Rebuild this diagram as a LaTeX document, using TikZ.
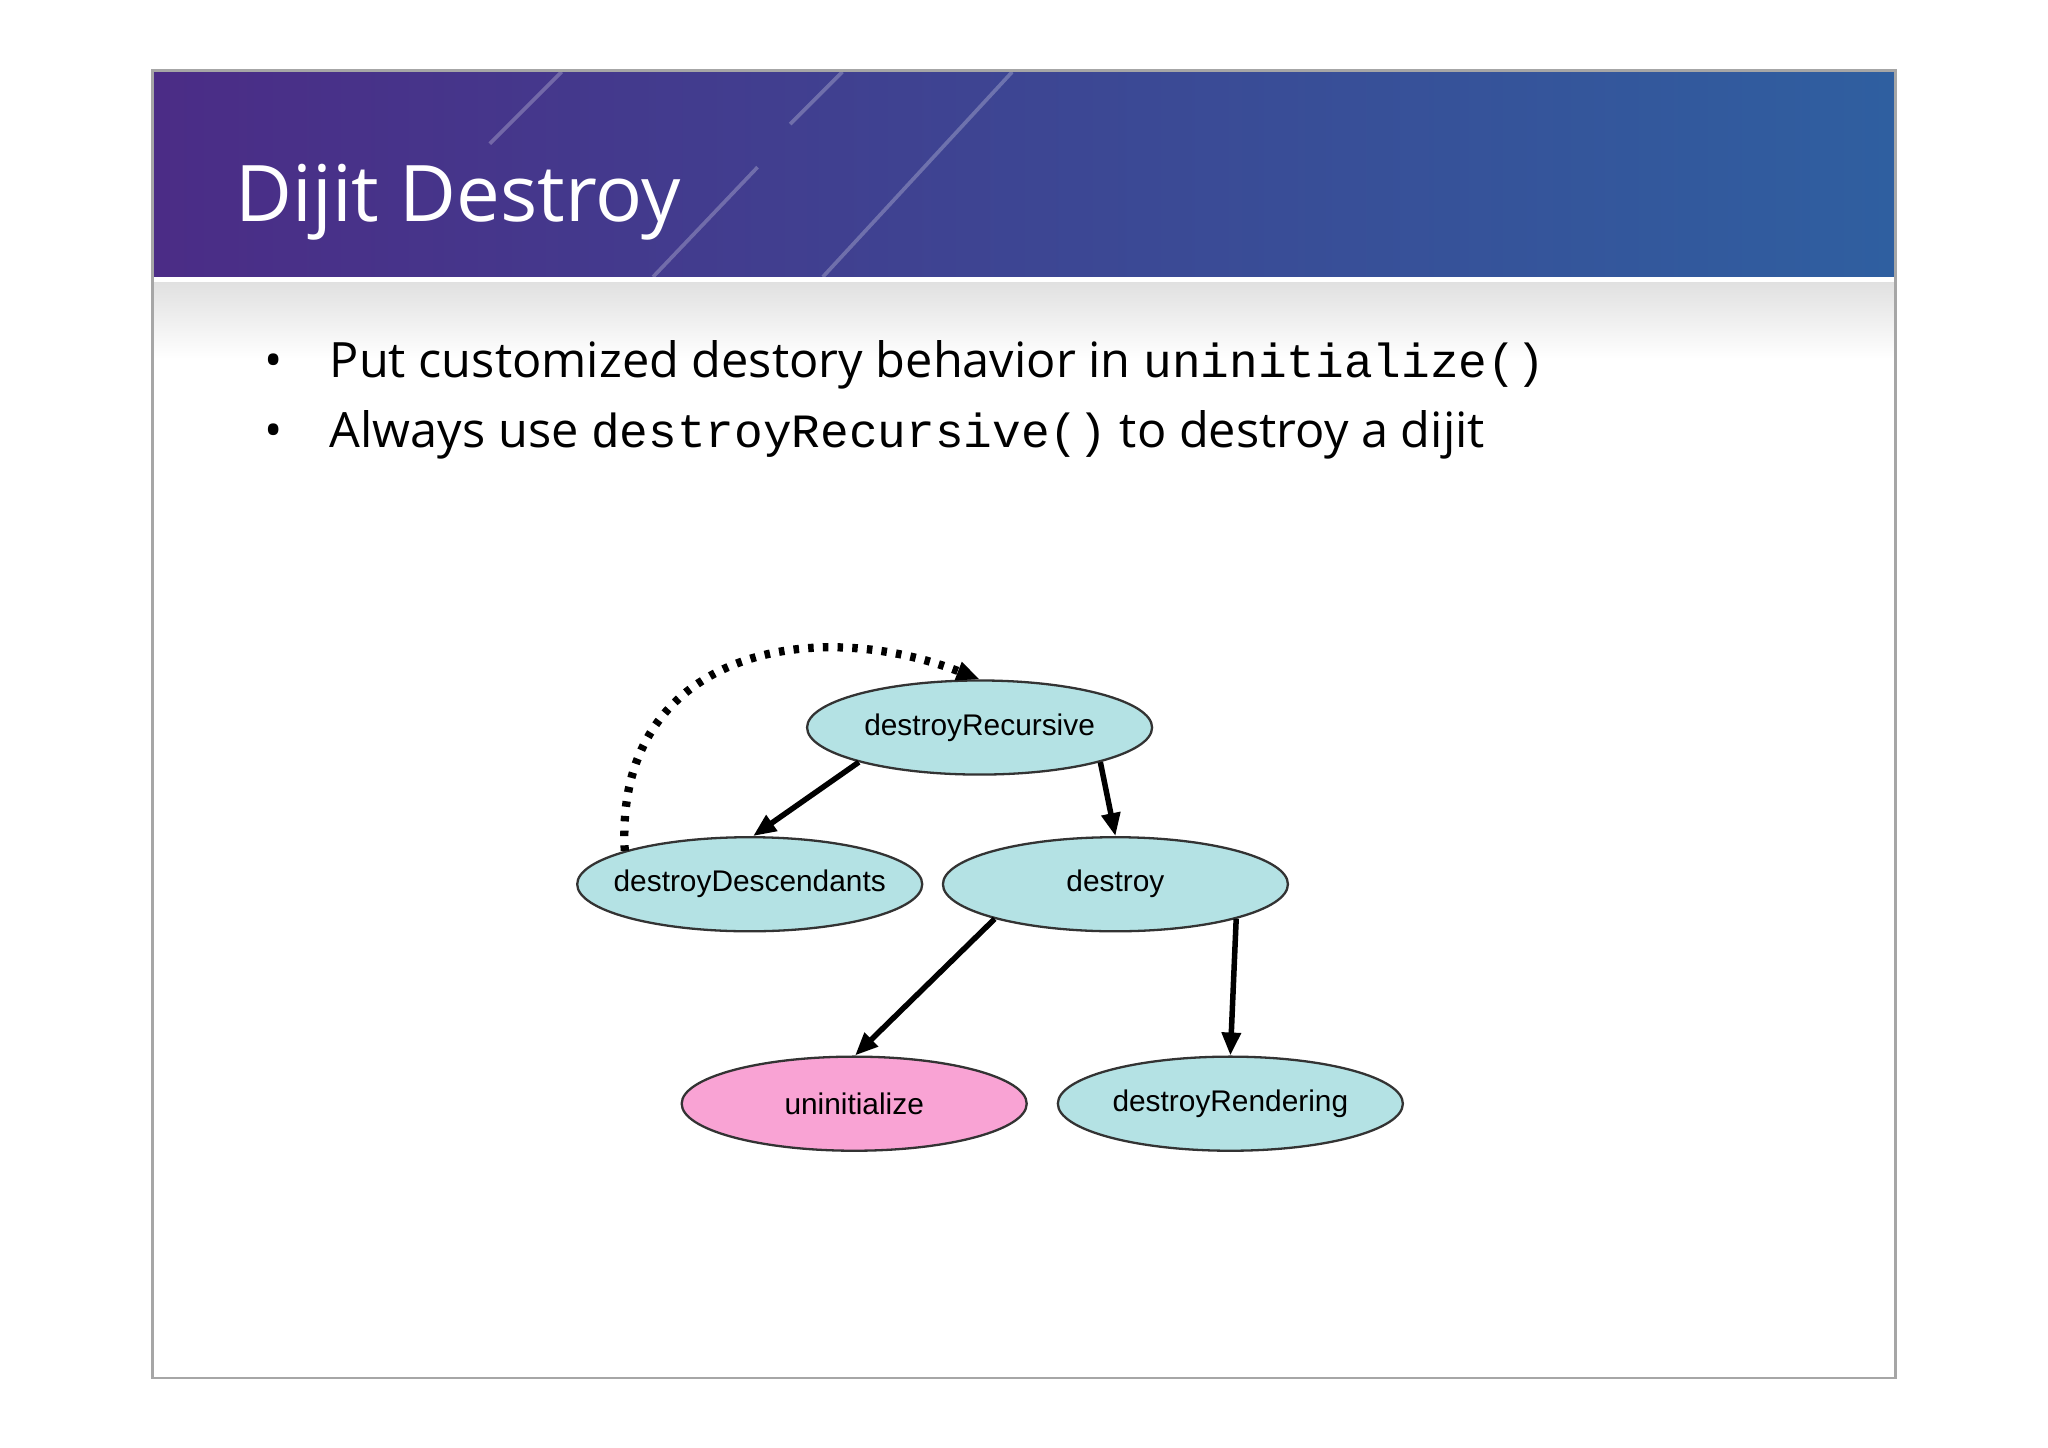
\documentclass[tikz,border=0pt]{standalone}
\usepackage{fontspec}
\setmainfont{Open Sans}
\newfontfamily\arialf{Liberation Sans}
\newfontfamily\monof{Liberation Mono}
\usetikzlibrary{shapes.geometric,arrows.meta}
\definecolor{hdrA}{HTML}{4B2C86}
\definecolor{hdrB}{HTML}{2F5FA0}
\definecolor{cyanfill}{HTML}{B4E2E4}
\definecolor{pinkfill}{HTML}{F9A3D4}
\tikzset{
  ell/.style={ellipse, draw=black!80, line width=0.5pt, minimum width=2.64cm, minimum height=0.72cm, inner xsep=-1cm, inner ysep=0pt, font=\arialf\fontsize{6.5}{8}\selectfont},
  edge/.style={-{Triangle[length=5pt,width=4pt]}, line width=1.2pt},
}
\begin{document}
\begin{tikzpicture}[x=0.01cm,y=-0.01cm]
\useasboundingbox (0,0) rectangle (1568,1108);
\fill[white] (0,0) rectangle (1568,1108);
% header
\shade[left color=hdrA, right color=hdrB] (117,54) rectangle (1451,212);
\foreach \a/\b in {{375,110}/{430,55},{500,212}/{580,128},{630,212}/{775,55},{605,95}/{645,55}}
  \draw[white,opacity=0.25,line width=0.8pt] (\a) -- (\b);
\fill[white] (117,212) rectangle (1451,216);
\shade[top color=black!12, bottom color=white] (117,216) rectangle (1451,275);
\draw[black!35,line width=0.6pt] (117,54) rectangle (1451,1055);
\node[anchor=west,text=white,font=\fontsize{17}{20}\selectfont] (title) at (168,155) {Dijit Destroy};
% bullets
\node[anchor=west,font=\fontsize{10.6}{12}\selectfont] (b1) at (190,279) {\textbullet\hspace{0.36cm}Put customized destory behavior in {\monof\fontsize{10.4}{12}\selectfont uninitialize()}};
\node[anchor=west,font=\fontsize{10.6}{12}\selectfont] (b2) at (190,333) {\textbullet\hspace{0.36cm}Always use {\monof\fontsize{10.4}{12}\selectfont destroyRecursive()} to destroy a dijit};
% graph
\node[ell,fill=cyanfill] (dr) at (750,557) {destroyRecursive};
\node[ell,fill=cyanfill] (dd) at (574,677) {destroyDescendants};
\node[ell,fill=cyanfill] (de) at (854,677) {destroy};
\node[ell,fill=pinkfill] (un) at (654,845) {uninitialize};
\node[ell,fill=cyanfill] (rn) at (942,845) {destroyRendering};
\draw[edge] (dr.196) -- (dd.86);
\draw[edge] (dr.-16) -- (de.90);
\draw[edge] (de.196) -- (un.89);
\draw[edge] (de.-16) -- (rn.90);
\draw[edge,dotted,line width=1.8pt] (dd.165) .. controls (470,500) and (620,470) .. (dr.90);
\end{tikzpicture}
\end{document}
